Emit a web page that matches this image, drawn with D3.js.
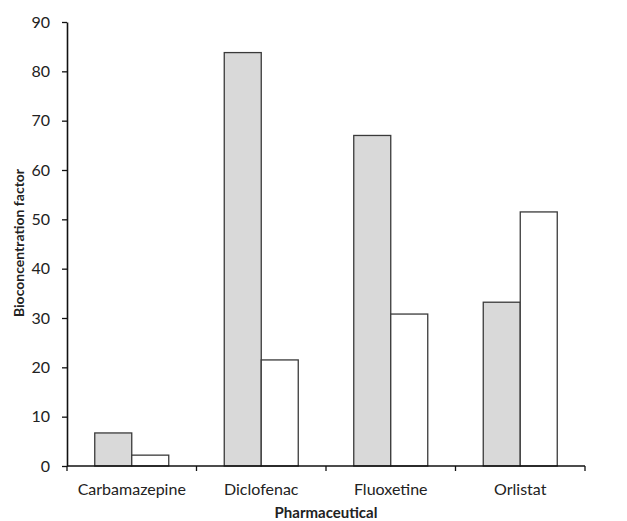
<!DOCTYPE html>
<html>
<head>
<meta charset="utf-8">
<script src="https://cdn.jsdelivr.net/npm/d3@7"></script>
<style>
  body { margin: 0; background: #fff; }
  svg text { font-family: Lato, "Open Sans", "Liberation Sans", sans-serif; fill: #222; }
</style>
</head>
<body>
<svg id="chart" width="627" height="521"></svg>
<script>
// Bioconcentration factor per pharmaceutical, two series per group
const categories = ["Carbamazepine", "Diclofenac", "Fluoxetine", "Orlistat"];
const seriesA = [6.7, 83.8, 67.0, 33.2];   // grey bars
const seriesB = [2.2, 21.5, 30.8, 51.5];   // white bars
const yTicks = [0, 10, 20, 30, 40, 50, 60, 70, 80, 90];

const svg = d3.select("#chart");
const margin = { left: 67, right: 42, top: 22, bottom: 55 };
const W = 627, H = 521;

const x = d3.scaleBand().domain(categories).range([margin.left, W - margin.right]).paddingInner(0).paddingOuter(0);
const inner = d3.scaleBand().domain(["A", "B"]).range([0, x.bandwidth()]).paddingInner(0).paddingOuter(0.75);
const y = d3.scaleLinear().domain([0, 90]).range([H - margin.bottom, margin.top]);

const rows = categories.map((c, i) => ({ c, vals: [{ k: "A", v: seriesA[i] }, { k: "B", v: seriesB[i] }] }));

const g = svg.append("g");
g.selectAll("g.grp").data(rows).join("g")
  .attr("class", "grp")
  .attr("transform", d => `translate(${x(d.c)},0)`)
  .selectAll("rect").data(d => d.vals).join("rect")
  .attr("x", d => inner(d.k))
  .attr("width", inner.bandwidth())
  .attr("y", d => y(d.v))
  .attr("height", d => y(0) - y(d.v))
  .attr("fill", d => d.k === "A" ? "#d9d9d9" : "#ffffff")
  .attr("stroke", "#3a3a3a")
  .attr("stroke-width", 1.3);

// Y axis
const yAxis = svg.append("g")
  .attr("transform", `translate(${margin.left},0)`)
  .call(d3.axisLeft(y).tickValues(yTicks).tickSize(5).tickSizeOuter(0).tickPadding(12));
yAxis.select(".domain").attr("stroke", "#111").attr("stroke-width", 1.6);
yAxis.selectAll(".tick line").attr("stroke", "#111").attr("stroke-width", 1.3);
yAxis.selectAll(".tick text").style("font-size", "16px").attr("fill", "#222");

// X axis with boundary ticks between categories
const xAxis = svg.append("g").attr("transform", `translate(0,${y(0)})`);
xAxis.append("line")
  .attr("x1", margin.left).attr("x2", W - margin.right)
  .attr("y1", 0).attr("y2", 0)
  .attr("stroke", "#111").attr("stroke-width", 1.6);
const bounds = categories.map(c => x(c)).concat([x(categories[categories.length - 1]) + x.bandwidth()]);
xAxis.selectAll("line.bt").data(bounds).join("line")
  .attr("class", "bt")
  .attr("x1", d => d).attr("x2", d => d)
  .attr("y1", 0).attr("y2", 5)
  .attr("stroke", "#111").attr("stroke-width", 1.3);
xAxis.selectAll("text.cat").data(categories).join("text")
  .attr("class", "cat")
  .attr("x", d => x(d) + x.bandwidth() / 2)
  .attr("y", 29)
  .attr("text-anchor", "middle")
  .style("font-size", "16px")
  .text(d => d);

// Axis titles
svg.append("text")
  .attr("x", (margin.left + W - margin.right) / 2)
  .attr("y", 518)
  .attr("text-anchor", "middle")
  .style("font-size", "15px")
  .style("font-weight", "bold")
  .text("Pharmaceutical");

svg.append("text")
  .attr("transform", `translate(24,243) rotate(-90)`)
  .attr("text-anchor", "middle")
  .style("font-size", "14px")
  .style("font-weight", "bold")
  .text("Bioconcentration factor");
</script>
</body>
</html>
